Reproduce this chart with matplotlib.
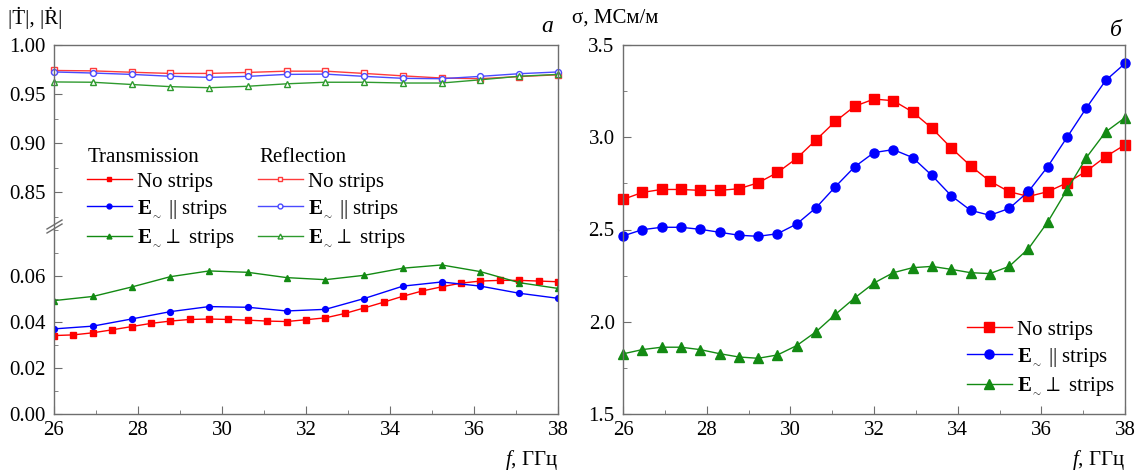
import numpy as np
import matplotlib
matplotlib.use("Agg")
import matplotlib.pyplot as plt
from matplotlib.lines import Line2D
from matplotlib.ticker import MultipleLocator, FormatStrFormatter

plt.rcParams['font.family'] = ['Liberation Serif', 'DejaVu Serif']
plt.rcParams['mathtext.fontset'] = 'custom'
plt.rcParams['mathtext.rm'] = 'Liberation Serif'
plt.rcParams['mathtext.it'] = 'Liberation Serif:italic'
plt.rcParams['mathtext.bf'] = 'Liberation Serif:bold'

# frequency grids, GHz
f_fine = np.linspace(26, 38, 27)
f_coarse = np.linspace(26, 38, 14)

# panel a: transmission |T|
T_none = [0.0341, 0.0344, 0.0353, 0.0366, 0.0380, 0.0394, 0.0404, 0.0411, 0.0413,
          0.0411, 0.0408, 0.0404, 0.0402, 0.0410, 0.0418, 0.0437, 0.0461, 0.0486,
          0.0512, 0.0535, 0.0553, 0.0569, 0.0578, 0.0581, 0.0581, 0.0578, 0.0575]
T_par = [0.0370, 0.0382, 0.0413, 0.0445, 0.0467, 0.0464, 0.0448, 0.0455, 0.0502,
         0.0556, 0.0574, 0.0556, 0.0525, 0.0503]
T_perp = [0.0493, 0.0511, 0.0552, 0.0597, 0.0622, 0.0616, 0.0593, 0.0584, 0.0603,
          0.0634, 0.0648, 0.0619, 0.0571, 0.0546]

# panel a: reflection |R|
R_none = [0.9740, 0.9736, 0.9722, 0.9710, 0.9710, 0.9720, 0.9733, 0.9733, 0.9710,
          0.9685, 0.9663, 0.9656, 0.9678, 0.9696]
R_par = [0.9725, 0.9714, 0.9700, 0.9681, 0.9670, 0.9680, 0.9700, 0.9703, 0.9680,
         0.9660, 0.9656, 0.9680, 0.9707, 0.9725]
R_perp = [0.9623, 0.9620, 0.9597, 0.9575, 0.9564, 0.9579, 0.9604, 0.9620, 0.9620,
          0.9612, 0.9612, 0.9645, 0.9681, 0.9700]

# panel b: conductivity, MS/m
s_none = [2.663, 2.701, 2.717, 2.717, 2.712, 2.712, 2.721, 2.753, 2.809, 2.886,
          2.986, 3.086, 3.168, 3.207, 3.198, 3.137, 3.049, 2.942, 2.845, 2.762,
          2.705, 2.679, 2.705, 2.753, 2.816, 2.895, 2.959]
s_par = [2.465, 2.499, 2.512, 2.512, 2.501, 2.485, 2.469, 2.463, 2.477, 2.530,
         2.618, 2.732, 2.840, 2.917, 2.933, 2.890, 2.793, 2.683, 2.604, 2.577,
         2.614, 2.706, 2.841, 3.000, 3.159, 3.308, 3.400]
s_perp = [1.826, 1.849, 1.862, 1.862, 1.849, 1.827, 1.809, 1.802, 1.820, 1.871,
          1.946, 2.040, 2.129, 2.210, 2.266, 2.293, 2.300, 2.284, 2.266, 2.261,
          2.300, 2.396, 2.541, 2.716, 2.890, 3.029, 3.106]

labels = ['No strips', r'$\mathbf{E}_{_\sim}$ || strips', r'$\mathbf{E}_{_\sim}\perp$ strips']
RED, BLUE, GREEN = '#ff0000', '#0000ff', '#138a13'
RED_R, BLUE_R, GREEN_R = '#ff3b3b', '#4a4aff', '#2e9a2e'
FS = 15
SPINE = '#6e6e6e'
W_PX, H_PX = 1140, 476


def fx(px):
    return px / W_PX


def fy(py):
    return 1 - py / H_PX


def style(ax, xt=True):
    for s in ax.spines.values():
        s.set_color(SPINE)
        s.set_linewidth(1.0)
    ax.tick_params(which='both', direction='in', top=False, right=False,
                   labelsize=FS, color=SPINE)
    ax.tick_params(which='major', length=6)
    ax.tick_params(which='minor', length=3)
    ax.tick_params(axis='x', pad=5)
    ax.tick_params(axis='y', pad=6)
    ax.set_xlim(26, 38)
    ax.xaxis.set_major_locator(MultipleLocator(2))
    ax.xaxis.set_minor_locator(MultipleLocator(1))
    if not xt:
        ax.tick_params(which='both', bottom=False, labelbottom=False)


fig = plt.figure(figsize=(11.4, 4.76), dpi=100)

# left panel, broken axis
top, brk, bot = 45, 230, 414
ax_up = fig.add_axes([fx(54), fy(brk), fx(558 - 54), (brk - top) / H_PX])
ax_lo = fig.add_axes([fx(54), fy(bot), fx(558 - 54), (bot - brk) / H_PX])
style(ax_up, xt=False)
style(ax_lo)
ax_up.spines['bottom'].set_visible(False)
ax_lo.spines['top'].set_visible(False)
ax_up.set_ylim(1.0 - (brk - top) / 49 * 0.05, 1.0)
ax_up.set_yticks([0.85, 0.90, 0.95, 1.00])
ax_up.yaxis.set_minor_locator(MultipleLocator(0.025))
ax_up.yaxis.set_major_formatter(FormatStrFormatter('%.2f'))
ax_lo.set_ylim(0, (bot - brk) / 46 * 0.02)
ax_lo.set_yticks([0.00, 0.02, 0.04, 0.06])
ax_lo.yaxis.set_minor_locator(MultipleLocator(0.01))
ax_lo.yaxis.set_major_formatter(FormatStrFormatter('%.2f'))

ms = 4.2
ax_lo.plot(f_fine, T_none, '-s', color=RED, lw=1, ms=ms)
ax_lo.plot(f_coarse, T_par, '-o', color=BLUE, lw=1, ms=ms)
ax_lo.plot(f_coarse, T_perp, '-^', color=GREEN, lw=1, ms=ms)
ax_up.plot(f_coarse, R_none, '-s', color=RED_R, lw=1, ms=ms, mfc='white', clip_on=False)
ax_up.plot(f_coarse, R_par, '-o', color=BLUE_R, lw=1, ms=ms, mfc='white', clip_on=False)
ax_up.plot(f_coarse, R_perp, '-^', color=GREEN_R, lw=1, ms=ms, mfc='white', clip_on=False)

# break marks on the left spine
for dy in (0, 4):
    fig.add_artist(Line2D([fx(47), fx(62)], [fy(233 - dy), fy(224 - dy)],
                          color=SPINE, lw=1.0))

lms = 3.5
hT = [Line2D([], [], color=c, marker=m, lw=1, ms=lms) for c, m in
      zip([RED, BLUE, GREEN], ['s', 'o', '^'])]
hR = [Line2D([], [], color=c, marker=m, lw=1, ms=lms, mfc='white') for c, m in
      zip([RED_R, BLUE_R, GREEN_R], ['s', 'o', '^'])]
leg_kw = dict(loc='upper left', frameon=False, fontsize=FS, handlelength=2.15,
              handletextpad=0.25, labelspacing=0.3, borderpad=0, borderaxespad=0)
fig.legend(hT, labels, bbox_to_anchor=(fx(87), fy(172)), **leg_kw)
fig.legend(hR, labels, bbox_to_anchor=(fx(258), fy(172)), **leg_kw)
fig.text(fx(88), fy(158), 'Transmission', fontsize=FS, va='center')
fig.text(fx(259), fy(158), 'Reflection', fontsize=FS, va='center')

ax_lo.set_xlabel('$f$, ГГц', fontsize=FS, loc='right', labelpad=6)
fig.text(fx(8), fy(18), '|Ṫ|, |Ṙ|', fontsize=FS, va='center')
fig.text(fx(553), fy(27), 'а', fontsize=FS + 2, style='italic',
         ha='right', va='center')

# right panel
ax_r = fig.add_axes([fx(623), fy(bot), fx(1125 - 623), (bot - top) / H_PX])
style(ax_r)
ax_r.set_ylim(1.5, 3.5)
ax_r.yaxis.set_major_locator(MultipleLocator(0.5))
ax_r.yaxis.set_minor_locator(MultipleLocator(0.25))
ax_r.yaxis.set_major_formatter(FormatStrFormatter('%.1f'))
ms2 = 6.5
ax_r.plot(f_fine, s_none, '-s', color=RED, lw=1, ms=ms2, label=labels[0], clip_on=False)
ax_r.plot(f_fine, s_par, '-o', color=BLUE, lw=1, ms=ms2, label=labels[1], clip_on=False)
ax_r.plot(f_fine, s_perp, '-^', color=GREEN, lw=1, ms=ms2, label=labels[2], clip_on=False)
fig.legend(*ax_r.get_legend_handles_labels(), bbox_to_anchor=(fx(967), fy(320)),
           **leg_kw)
ax_r.set_xlabel('$f$, ГГц', fontsize=FS, loc='right', labelpad=6)
fig.text(fx(572), fy(18), 'σ, МСм/м', fontsize=FS, va='center')
fig.text(fx(1122), fy(30), 'б', fontsize=FS + 2, style='italic',
         ha='right', va='center')

fig.savefig('out.png', dpi=100)
